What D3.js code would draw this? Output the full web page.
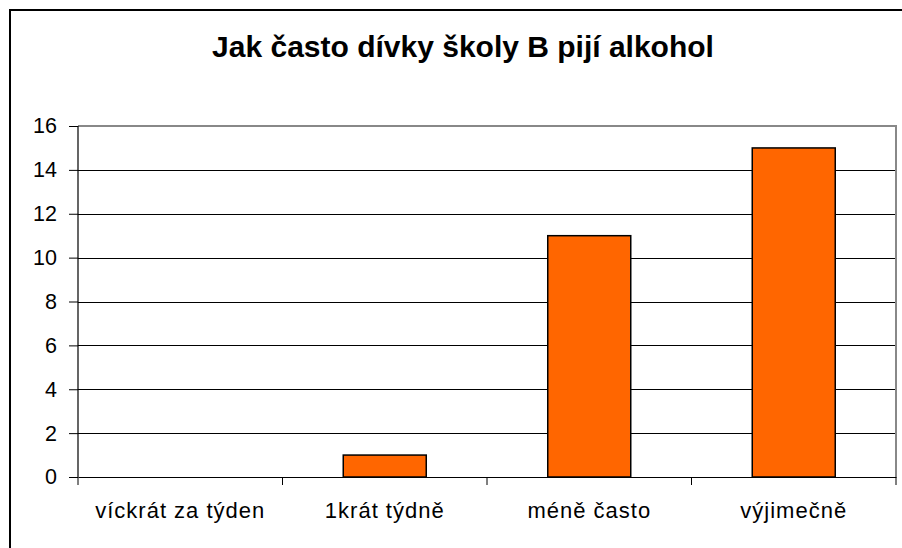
<!DOCTYPE html>
<html><head><meta charset="utf-8">
<script src="https://cdn.jsdelivr.net/npm/d3@7"></script>
<style>html,body{margin:0;padding:0;background:#fff;overflow:hidden}svg{display:block}</style>
</head><body>
<script>
const categories = ["víckrát za týden", "1krát týdně", "méně často", "výjimečně"];
const values = [0, 1, 11, 15];
const yTicks = [0, 2, 4, 6, 8, 10, 12, 14, 16];
const title = "Jak často dívky školy B pijí alkohol";

const W = 902, H = 548;
const svg = d3.select("body").append("svg").attr("width", W).attr("height", H);
const font = "'Liberation Sans', Arial, sans-serif";

svg.append("rect").attr("x", 10).attr("y", 10).attr("width", 912).attr("height", 560)
  .attr("fill", "#fff").attr("stroke", "#000").attr("stroke-width", 2);

const L = 78, R = 896, T = 126, B = 477;
const x = d3.scaleBand().domain(categories).range([L, R]);
const y = d3.scaleLinear().domain([0, 16]).range([B, T]);

// gridlines
svg.append("g").selectAll("line").data(yTicks.filter(v => v > 0 && v < 16)).join("line")
  .attr("x1", L).attr("x2", R).attr("y1", d => Math.round(y(d)) + 0.5).attr("y2", d => Math.round(y(d)) + 0.5)
  .attr("stroke", "#000").attr("stroke-width", 1);

// plot frame top/right (gray)
svg.append("path").attr("d", `M${L},${T} H${R} V${B}`).attr("fill", "none")
  .attr("stroke", "#888").attr("stroke-width", 2);

// bars
const bw = 83;
svg.append("g").selectAll("rect").data(values).join("rect")
  .attr("x", (d, i) => x(categories[i]) + x.bandwidth() / 2 - bw / 2)
  .attr("y", d => y(d)).attr("width", bw).attr("height", d => B - y(d))
  .attr("fill", d => d > 0 ? "#FF6600" : "none").attr("stroke", d => d > 0 ? "#000" : "none").attr("stroke-width", 1.5);

// y axis
const yAxis = d3.axisLeft(y).tickValues(yTicks).tickSize(9).tickPadding(12).tickFormat(d3.format("d"));
const gy = svg.append("g").attr("transform", `translate(${L},0)`).call(yAxis);
gy.select(".domain").attr("stroke", "#000").attr("stroke-width", 1.2).attr("d", `M-9,${T}.5H0V${B}`);
gy.selectAll(".tick line").attr("stroke", "#000");
gy.selectAll("text").attr("font-family", font).attr("font-size", 21.5).attr("fill", "#000");

// x axis
const xAxis = d3.axisBottom(x).tickSize(0).tickPadding(0);
const gx = svg.append("g").attr("transform", `translate(0,${B})`).call(xAxis);
gx.select(".domain").attr("stroke", "#000").attr("stroke-width", 1.2);
gx.selectAll("text").attr("font-family", font).attr("font-size", 22).attr("letter-spacing", 1)
  .attr("fill", "#000").attr("y", 41).attr("dy", 0);
const bounds = categories.map(c => x(c)).concat([R]);
gx.selectAll("line.sep").data(bounds).join("line").attr("class", "sep")
  .attr("x1", d => d).attr("x2", d => d).attr("y1", 0).attr("y2", 8)
  .attr("stroke", "#000").attr("stroke-width", 1);

svg.append("text").attr("x", 463).attr("y", 57).attr("text-anchor", "middle")
  .attr("font-family", font).attr("font-weight", "bold").attr("font-size", 30).text(title);
</script>
</body></html>
